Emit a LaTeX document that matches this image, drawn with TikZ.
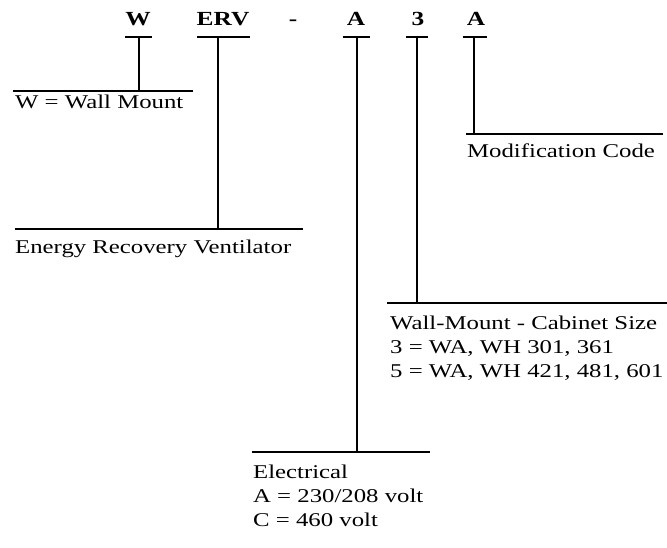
\documentclass[tikz,border=0pt]{standalone}
\usepackage{fontspec}
\setmainfont{Liberation Serif}[FakeStretch=1.27]
\usepackage{tikz}

\tikzset{
  codeletter/.style={anchor=base, inner sep=0pt, font=\fontsize{20}{24}\selectfont\bfseries},
  labeltext/.style={anchor=base west, inner sep=0pt, font=\fontsize{19.5}{24}\selectfont},
  leader/.style={line width=1.7pt}
}

\begin{document}
\begin{tikzpicture}[x=1pt, y=-1pt]
            \useasboundingbox (0,0) rectangle (667,548);

            % Model code letters
            \node[codeletter] (cW) at (138,26) {W};
            \node[codeletter] (cERV) at (223,26) {ERV};
            \node[codeletter] (cDash) at (293,26) {-};
            \node[codeletter] (cElec) at (356,26) {A};
            \node[codeletter] (cSize) at (418,26) {3};
            \node[codeletter] (cMod) at (476,26) {A};

            % Underline points and junctions
            \coordinate (uW) at (139,37);
            \coordinate (uERV) at (218,37);
            \coordinate (uElec) at (357,37);
            \coordinate (uSize) at (417,37);
            \coordinate (uMod) at (474,37);
            \coordinate (jW) at (139,91);
            \coordinate (jERV) at (218,229);
            \coordinate (jElec) at (357,452);
            \coordinate (jSize) at (417,303);
            \coordinate (jMod) at (474,134);

            % Underlines
            \draw[leader] (125,37) -- (152,37);
            \draw[leader] (197,37) -- (250,37);
            \draw[leader] (343,37) -- (370,37);
            \draw[leader] (406,37) -- (428,37);
            \draw[leader] (463,37) -- (487,37);

            % Leaders down to the label lines
            \draw[leader] (uW) -- (jW);
            \draw[leader] (uERV) -- (jERV);
            \draw[leader] (uElec) -- (jElec);
            \draw[leader] (uSize) -- (jSize);
            \draw[leader] (uMod) -- (jMod);

            % Label lines
            \draw[leader] (13,91) -- (193,91);
            \draw[leader] (15,229) -- (303,229);
            \draw[leader] (252,452) -- (430,452);
            \draw[leader] (387,303) -- (667,303);
            \draw[leader] (466,134) -- (663,134);

            % Labels
            \node[labeltext] (lW) at (15,109) {W = Wall Mount};
            \node[labeltext] (lERV) at (15,254) {Energy Recovery Ventilator};
            \node[labeltext] (lMod) at (467,158) {Modification Code};
            \node[labeltext] (lSize1) at (390,329) {Wall-Mount - Cabinet Size};
            \node[labeltext] (lSize2) at (390,353) {3 = WA, WH 301, 361};
            \node[labeltext] (lSize3) at (390,377) {5 = WA, WH 421, 481, 601};
            \node[labeltext] (lElec1) at (253,478) {Electrical};
            \node[labeltext] (lElec2) at (253,502) {A = 230/208 volt};
            \node[labeltext] (lElec3) at (253,526) {C = 460 volt};
        \end{tikzpicture}
\end{document}
